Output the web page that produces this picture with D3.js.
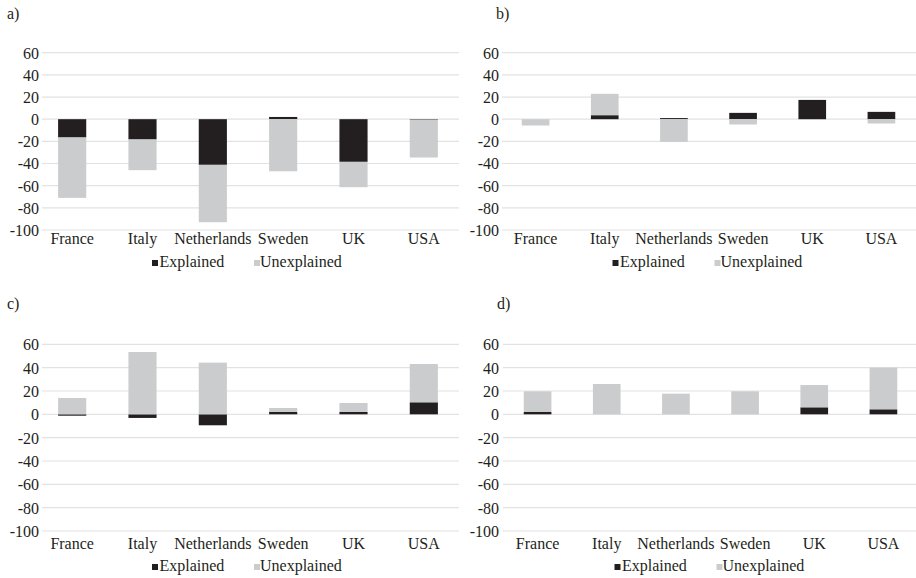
<!DOCTYPE html>
<html>
<head>
<meta charset="utf-8">
<script src="https://cdn.jsdelivr.net/npm/d3@7"></script>
<style>
  html, body { margin: 0; padding: 0; background: #fff; }
  svg { display: block; }
  svg text { font-family: 'Liberation Serif', 'Times New Roman', Times, 'DejaVu Serif', serif !important; fill: #231f20; }
</style>
</head>
<body>
<svg id="chart" width="916" height="578"></svg>
<script>
// Country categories shared by all four panels
const countries = ["France", "Italy", "Netherlands", "Sweden", "UK", "USA"];

// Decomposition of the gap: explained and unexplained parts, per panel
const explainedA   = [-16.5, -18.3, -41.2, 2.0, -38.5, -0.5];
const unexplainedA = [-54.5, -27.7, -51.8, -47.0, -22.9, -34.1];

const explainedB   = [0.0, 3.6, 1.0, 5.7, 17.4, 6.6];
const unexplainedB = [-5.7, 19.3, -20.5, -4.8, 0.0, -3.9];

const explainedC   = [-1.2, -3.1, -9.4, 2.0, 2.0, 10.3];
const unexplainedC = [14.0, 53.4, 44.3, 3.4, 7.7, 32.8];

const explainedD   = [2.0, 0.0, 0.0, 0.0, 6.0, 4.3];
const unexplainedD = [17.7, 26.0, 17.7, 19.7, 19.1, 35.7];

// Value axis ticks and legend entries
const yTicks = [60, 40, 20, 0, -20, -40, -60, -80, -100];
const seriesKeys = ["Explained", "Unexplained"];
const seriesColors = ["#231f20", "#cbcccd"];

// Panel layout
const panels = [
  { label: "a)", explained: explainedA, unexplained: unexplainedA,
    xRange: [37, 459], gridStart: 42, yRange: [230, 52.7], tickRight: 39,
    catBase: 244, legBase: 267, titleX: 7, titleBase: 19 },
  { label: "b)", explained: explainedB, unexplained: unexplainedB,
    xRange: [501, 916], gridStart: 502, yRange: [230, 52.7], tickRight: 499,
    catBase: 244, legBase: 267, titleX: 496, titleBase: 19 },
  { label: "c)", explained: explainedC, unexplained: unexplainedC,
    xRange: [37, 459], gridStart: 42, yRange: [531, 344.3], tickRight: 39,
    catBase: 549, legBase: 571, titleX: 7, titleBase: 309 },
  { label: "d)", explained: explainedD, unexplained: unexplainedD,
    xRange: [503, 918], gridStart: 503, yRange: [531, 344.3], tickRight: 499,
    catBase: 549, legBase: 571, titleX: 497, titleBase: 309 }
];

const svg = d3.select("#chart");
const FS = 16;
const FONT = "'Liberation Serif', 'Times New Roman', Times, 'DejaVu Serif', serif";

panels.forEach(p => {
  const g = svg.append("g").attr("font-family", FONT);

  const x = d3.scaleBand()
    .domain(countries)
    .range(p.xRange)
    .paddingInner(0.6)
    .paddingOuter(0.3);

  const y = d3.scaleLinear()
    .domain([-100, 60])
    .range(p.yRange);

  // Horizontal gridlines
  g.append("g").selectAll("line")
    .data(yTicks)
    .join("line")
    .attr("x1", p.gridStart)
    .attr("x2", p.xRange[1])
    .attr("y1", d => y(d))
    .attr("y2", d => y(d))
    .attr("stroke", "#e2e2e2")
    .attr("stroke-width", 1.2);

  // Value axis labels
  const yAxis = d3.axisLeft(y).tickValues(yTicks).tickSize(0).tickPadding(0)
    .tickFormat(d => d < 0 ? "-" + Math.abs(d) : String(d));
  const yg = g.append("g")
    .attr("transform", `translate(${p.tickRight},0)`)
    .call(yAxis);
  yg.attr("font-family", FONT).attr("font-size", FS);
  yg.select(".domain").remove();
  yg.selectAll("text")
    .attr("fill", "#231f20")
    .attr("dy", "0.34em");

  // Stacked bars (positive and negative parts stacked separately)
  const rows = countries.map((c, i) => ({
    country: c,
    Explained: p.explained[i],
    Unexplained: p.unexplained[i]
  }));
  const stacked = d3.stack()
    .keys(seriesKeys)
    .offset(d3.stackOffsetDiverging)(rows);

  g.append("g").selectAll("g")
    .data(stacked)
    .join("g")
    .attr("fill", (d, i) => seriesColors[i])
    .selectAll("rect")
    .data(d => d)
    .join("rect")
    .attr("x", d => x(d.data.country))
    .attr("width", x.bandwidth())
    .attr("y", d => y(Math.max(d[0], d[1])))
    .attr("height", d => Math.abs(y(d[0]) - y(d[1])));

  // Category labels
  g.append("g").selectAll("text")
    .data(countries)
    .join("text")
    .attr("x", d => x(d) + x.bandwidth() / 2)
    .attr("y", p.catBase)
    .attr("text-anchor", "middle")
    .attr("font-size", FS)
    .text(d => d);

  // Legend, centred under the category axis
  const cx = (p.xRange[0] + p.xRange[1]) / 2;
  const legendItems = [
    { key: seriesKeys[0], color: seriesColors[0], sq: cx - 96, tx: cx - 88.5 },
    { key: seriesKeys[1], color: seriesColors[1], sq: cx + 6, tx: cx + 12 }
  ];
  const lg = g.append("g");
  lg.selectAll("rect")
    .data(legendItems)
    .join("rect")
    .attr("x", d => d.sq)
    .attr("y", p.legBase - 7)
    .attr("width", 6)
    .attr("height", 6)
    .attr("fill", d => d.color);
  lg.selectAll("text")
    .data(legendItems)
    .join("text")
    .attr("x", d => d.tx)
    .attr("y", p.legBase)
    .attr("font-size", FS)
    .text(d => d.key);

  // Panel letter
  g.append("text")
    .attr("x", p.titleX)
    .attr("y", p.titleBase)
    .attr("font-size", FS)
    .text(p.label);
});
</script>
</body>
</html>
